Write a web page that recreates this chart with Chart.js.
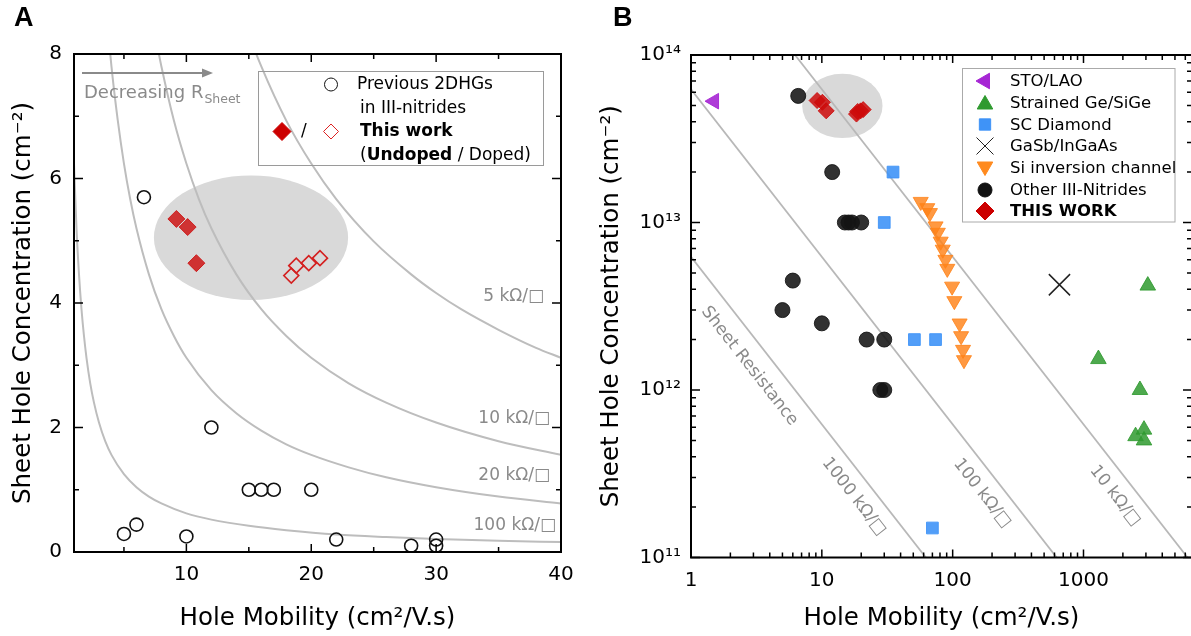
<!DOCTYPE html>
<html><head><meta charset="utf-8">
<script src="https://cdn.jsdelivr.net/npm/chart.js@4"></script>
<style>
html,body{margin:0;padding:0;background:#fff;}
#wrap{position:relative;width:1191px;height:636px;overflow:hidden;background:#fff;}
#ca{position:absolute;left:0;top:0;}
#cb{position:absolute;left:595px;top:0;}
</style></head><body>
<div id="wrap"><canvas id="ca" width="595" height="636"></canvas><canvas id="cb" width="600" height="636"></canvas></div>
<script>
// ---------- Panel A data (concentration in 1e13 cm^-2) ----------
const prevMobility = [5, 6, 6.6, 10, 12, 15, 16, 17, 20, 22, 28, 30, 30];
const prevConc     = [0.29, 0.44, 5.7, 0.25, 2.0, 1.0, 1.0, 1.0, 1.0, 0.2, 0.1, 0.2, 0.1];
const undopedMobility = [9.2, 10.1, 10.8];
const undopedConc     = [5.35, 5.22, 4.64];
const dopedMobility = [18.4, 18.8, 19.8, 20.7];
const dopedConc     = [4.44, 4.6, 4.64, 4.72];
// constant sheet-resistance curves
const r5kMu   = [14, 15, 16, 18, 20, 22, 25, 28, 30, 32, 35, 38, 40];
const r5kConc = [8.92, 8.32, 7.80, 6.93, 6.24, 5.67, 4.99, 4.46, 4.16, 3.90, 3.57, 3.28, 3.12];
const r10kMu   = [7, 7.8, 8, 9, 10, 11, 12, 14, 16, 18, 20, 23, 26, 30, 35, 40];
const r10kConc = [8.92, 8.0, 7.80, 6.93, 6.24, 5.67, 5.20, 4.46, 3.90, 3.47, 3.12, 2.71, 2.40, 2.08, 1.78, 1.56];
const r20kMu   = [3.5, 4, 4.5, 5, 5.5, 6, 7, 8, 9, 10, 12, 14, 16, 18, 20, 23, 26, 30, 35, 40];
const r20kConc = [8.92, 7.80, 6.94, 6.24, 5.67, 5.20, 4.46, 3.90, 3.47, 3.12, 2.60, 2.23, 1.95, 1.73, 1.56, 1.36, 1.20, 1.04, 0.89, 0.78];
const r100kMu   = [1, 1.2, 1.4, 1.6, 1.8, 2, 2.3, 2.6, 3, 3.5, 4, 5, 6, 7, 8, 10, 12, 15, 18, 22, 26, 30, 35, 40];
const r100kConc = [6.24, 5.20, 4.46, 3.90, 3.47, 3.12, 2.71, 2.40, 2.08, 1.78, 1.56, 1.25, 1.04, 0.89, 0.78, 0.62, 0.52, 0.42, 0.35, 0.28, 0.24, 0.21, 0.18, 0.16];
const A_X_MAJOR = [10, 20, 30, 40];
const A_X_MINOR = [5, 15, 25, 35];
const A_Y_MAJOR = [0, 2, 4, 6, 8];
const A_Y_MINOR = [1, 3, 5, 7];
const A_CURVE_LABELS = ['5 kΩ/□', '10 kΩ/□', '20 kΩ/□', '100 kΩ/□'];
const A_CURVE_LABEL_CONC = [4.11, 2.14, 1.22, 0.42];

// ---------- Panel B data (cm^-2) ----------
const stoMu = [1.5];
const stoConc = [5.3e13];
const geMu = [3100, 1300, 2700, 2500, 2900, 2900];
const geConc = [4.2e12, 1.53e12, 1.0e12, 5.3e11, 5.8e11, 5.0e11];
const diamondMu = [35, 30, 51, 74, 70];
const diamondConc = [2e13, 1e13, 2e12, 2e12, 1.5e11];
const gasbMu = [655];
const gasbConc = [4.25e12];
const siMu = [57, 64, 67, 74, 77, 81, 84, 88, 91, 99, 103, 113, 116, 120, 122];
const siConc = [1.33e13, 1.22e13, 1.14e13, 9.5e12, 8.7e12, 7.7e12, 6.9e12, 6.0e12, 5.3e12, 4.15e12, 3.4e12, 2.5e12, 2.1e12, 1.74e12, 1.51e12];
const nitrideMu = [5, 6, 6.6, 10, 12, 15, 16, 17, 20, 22, 28, 30, 30];
const nitrideConc = [3e12, 4.5e12, 5.7e13, 2.5e12, 2e13, 1e13, 1e13, 1e13, 1e13, 2e12, 1e12, 2e12, 1e12];
const thisWorkMu = [9.2, 10.1, 10.8, 18.4, 18.8, 19.8, 20.7];
const thisWorkConc = [5.35e13, 5.22e13, 4.64e13, 4.44e13, 4.6e13, 4.64e13, 4.72e13];
const rs1000Mu = [1, 62.4];   const rs1000Conc = [6.24e12, 1e11];
const rs100Mu = [1, 624];     const rs100Conc = [6.24e13, 1e11];
const rs10Mu = [6.24, 6242];  const rs10Conc = [1e14, 1e11];
const B_X_MAJOR = [1, 10, 100, 1000];
const B_X_LABELS = ['1', '10', '100', '1000'];
const B_X_MINOR = [2,3,4,5,6,7,8,9,20,30,40,50,60,70,80,90,200,300,400,500,600,700,800,900,2000,3000,4000,5000,6000];
const B_Y_MAJOR = [1e11, 1e12, 1e13, 1e14];
const B_Y_LABELS = ['10¹¹', '10¹²', '10¹³', '10¹⁴'];
const B_Y_MINOR = [2e11,3e11,4e11,5e11,6e11,7e11,8e11,9e11,2e12,3e12,4e12,5e12,6e12,7e12,8e12,9e12,2e13,3e13,4e13,5e13,6e13,7e13,8e13,9e13];
const B_LINE_LABELS = ['Sheet Resistance', '1000 kΩ/□', '100 kΩ/□', '10 kΩ/□'];
const B_LINE_LABEL_MU = [2.80, 17.6, 168, 1744];
const B_LINE_LABEL_CONC = [1.39e12, 2.31e11, 2.42e11, 2.34e11];

// highlight ellipses (data extents)
const A_HIGHLIGHT = {muMin: 7.4, muMax: 22.95, concMin: 4.05, concMax: 6.05};
const B_HIGHLIGHT = {muMin: 7.08, muMax: 29.1, concMin: 3.19e13, concMax: 7.73e13};

Chart.defaults.font.family = '"DejaVu Sans", sans-serif';
Chart.defaults.color = '#000';

const toXY = (xs, ys) => xs.map((v, i) => ({x: v, y: ys[i]}));
const GRAY_LINE = '#bdbdbd';
const GRAY_TEXT = '#8a8a8a';
const FONT = '"DejaVu Sans", sans-serif';

function drawFrame(chart, xMaj, xMin, yMaj, yMin) {
  const {ctx, chartArea: a, scales: {x, y}} = chart;
  ctx.save();
  ctx.strokeStyle = '#000';
  ctx.lineWidth = 1.5;
  ctx.beginPath();
  const tx = (v, len) => {
    const p = x.getPixelForValue(v);
    ctx.moveTo(p, a.bottom); ctx.lineTo(p, a.bottom - len);
    ctx.moveTo(p, a.top); ctx.lineTo(p, a.top + len);
  };
  const ty = (v, len) => {
    const p = y.getPixelForValue(v);
    ctx.moveTo(a.left, p); ctx.lineTo(a.left + len, p);
    ctx.moveTo(a.right, p); ctx.lineTo(a.right - len, p);
  };
  xMaj.forEach(v => tx(v, 8)); xMin.forEach(v => tx(v, 5));
  yMaj.forEach(v => ty(v, 9)); yMin.forEach(v => ty(v, 5));
  ctx.stroke();
  ctx.lineWidth = 2;
  ctx.strokeRect(a.left, a.top, a.right - a.left, a.bottom - a.top);
  ctx.restore();
}

function drawEllipse(chart, h) {
  const {ctx, scales: {x, y}} = chart;
  const l = x.getPixelForValue(h.muMin), r = x.getPixelForValue(h.muMax);
  const t = y.getPixelForValue(h.concMax), b = y.getPixelForValue(h.concMin);
  ctx.save();
  ctx.fillStyle = '#d9d9d9';
  ctx.beginPath();
  ctx.ellipse((l + r) / 2, (t + b) / 2, (r - l) / 2, (b - t) / 2, 0, 0, Math.PI * 2);
  ctx.fill();
  ctx.restore();
}

function marker(ctx, style, x, y, fill, stroke, bw, rotation) {
  ctx.save();
  ctx.fillStyle = fill; ctx.strokeStyle = stroke;
  Chart.helpers.drawPoint(ctx, {pointStyle: style.s, radius: style.r, borderWidth: bw, rotation: rotation || 0}, x, y);
  ctx.restore();
}

function runs(ctx, parts, x, y) {
  let cx = x;
  parts.forEach(([txt, font]) => { ctx.font = font; ctx.fillText(txt, cx, y); cx += ctx.measureText(txt).width; });
}

const plugA = {
  id: 'panelA',
  beforeDatasetsDraw(chart) { drawEllipse(chart, A_HIGHLIGHT); },
  afterDraw(chart) {
    const {ctx, chartArea: a, scales: {x, y}} = chart;
    drawFrame(chart, A_X_MAJOR, A_X_MINOR, A_Y_MAJOR, A_Y_MINOR);
    ctx.save();
    // panel letter
    ctx.fillStyle = '#000'; ctx.font = 'bold 27px "Liberation Sans", Arial, sans-serif';
    ctx.textBaseline = 'alphabetic'; ctx.fillText('A', 14, 26);
    // arrow
    ctx.strokeStyle = GRAY_TEXT; ctx.fillStyle = GRAY_TEXT; ctx.lineWidth = 2;
    ctx.beginPath(); ctx.moveTo(a.left + 8, 73); ctx.lineTo(a.left + 130, 73); ctx.stroke();
    ctx.beginPath(); ctx.moveTo(a.left + 139, 73); ctx.lineTo(a.left + 128, 68.5); ctx.lineTo(a.left + 128, 77.5); ctx.closePath(); ctx.fill();
    ctx.textBaseline = 'alphabetic';
    ctx.font = '18px ' + FONT; ctx.fillText('Decreasing R', a.left + 10, 98);
    const w = ctx.measureText('Decreasing R').width;
    ctx.font = '12.5px ' + FONT; ctx.fillText('Sheet', a.left + 10 + w + 1, 103);
    // curve labels
    ctx.font = '17px ' + FONT; ctx.textAlign = 'right'; ctx.textBaseline = 'middle';
    const rightOff = [17, 11, 11, 5];
    A_CURVE_LABELS.forEach((t, i) => ctx.fillText(t, a.right - rightOff[i], y.getPixelForValue(A_CURVE_LABEL_CONC[i])));
    // legend
    ctx.textAlign = 'left';
    ctx.strokeStyle = '#9a9a9a'; ctx.lineWidth = 1;
    ctx.strokeRect(258.5, 71.5, 285, 94);
    marker(ctx, {s: 'circle', r: 6.5}, 331, 84.5, 'rgba(0,0,0,0)', '#111', 1.6);
    ctx.fillStyle = '#000';
    ctx.font = '17px ' + FONT;
    ctx.fillText('Previous 2DHGs', 357, 85);
    ctx.fillText('in III-nitrides', 360, 108.5);
    marker(ctx, {s: 'rectRot', r: 9}, 282, 131.5, '#cc0000', '#cc0000', 1);
    ctx.fillStyle = '#000'; ctx.font = '17px ' + FONT; ctx.fillText('/', 301, 132);
    marker(ctx, {s: 'rectRot', r: 7.5}, 331, 131.5, 'rgba(0,0,0,0)', '#dd2222', 1.5);
    ctx.fillStyle = '#000';
    ctx.font = 'bold 17px ' + FONT; ctx.fillText('This work', 360, 132);
    runs(ctx, [['(', '17px ' + FONT], ['Undoped', 'bold 17px ' + FONT], [' / Doped)', '17px ' + FONT]], 360, 155.5);
    ctx.restore();
  }
};

const plugB = {
  id: 'panelB',
  beforeDatasetsDraw(chart) { drawEllipse(chart, B_HIGHLIGHT); },
  afterDraw(chart) {
    const {ctx, chartArea: a, scales: {x, y}} = chart;
    drawFrame(chart, B_X_MAJOR, B_X_MINOR, B_Y_MAJOR, B_Y_MINOR);
    ctx.save();
    ctx.fillStyle = '#000'; ctx.font = 'bold 27px "Liberation Sans", Arial, sans-serif';
    ctx.textBaseline = 'alphabetic'; ctx.fillText('B', 18, 26);
    // rotated line labels
    ctx.fillStyle = GRAY_TEXT; ctx.font = '17px ' + FONT; ctx.textAlign = 'center'; ctx.textBaseline = 'middle';
    B_LINE_LABELS.forEach((t, i) => {
      ctx.save();
      ctx.translate(x.getPixelForValue(B_LINE_LABEL_MU[i]), y.getPixelForValue(B_LINE_LABEL_CONC[i]));
      ctx.rotate(52 * Math.PI / 180);
      ctx.fillText(t, 0, 0);
      ctx.restore();
    });
    // legend
    ctx.textAlign = 'left';
    const L = 367.5, T = 68.5;
    ctx.fillStyle = '#fff'; ctx.fillRect(L, T, 212.5, 153.5);
    ctx.strokeStyle = '#aaa'; ctx.lineWidth = 1; ctx.strokeRect(L, T, 212.5, 153.5);
    const mx = 390, tx = 415;
    const rows = [81, 103, 124.5, 146, 168, 190, 211];
    marker(ctx, {s: 'triangle', r: 9}, mx, rows[0], '#a626d4', '#a626d4', 1, -90);
    marker(ctx, {s: 'triangle', r: 9}, mx, rows[1] + 1.5, '#2f9a2f', '#2f9a2f', 1);
    marker(ctx, {s: 'rect', r: 8}, mx, rows[2], '#3f93f7', '#3f93f7', 1);
    marker(ctx, {s: 'crossRot', r: 12}, mx, rows[3], '#111', '#222', 1.5);
    marker(ctx, {s: 'triangle', r: 9}, mx, rows[4] - 1.5, '#ff8a1e', '#ff8a1e', 1, 180);
    marker(ctx, {s: 'circle', r: 7}, mx, rows[5], '#111', '#111', 1);
    marker(ctx, {s: 'rectRot', r: 9}, mx, rows[6], '#cc0000', '#cc0000', 1);
    ctx.fillStyle = '#000'; ctx.font = '16.5px ' + FONT;
    ['STO/LAO', 'Strained Ge/SiGe', 'SC Diamond', 'GaSb/InGaAs', 'Si inversion channel', 'Other III-Nitrides'].forEach((t, i) => ctx.fillText(t, tx, rows[i] + 1));
    ctx.font = 'bold 16.5px ' + FONT; ctx.fillText('THIS WORK', tx, rows[6] + 1);
    ctx.restore();
  }
};

const curveDS = (mu, conc) => ({data: toXY(mu, conc), showLine: true, borderColor: GRAY_LINE, borderWidth: 2, pointRadius: 0, cubicInterpolationMode: 'monotone', fill: false, order: 10});

new Chart(document.getElementById('ca'), {
  type: 'scatter',
  data: {datasets: [
    curveDS(r5kMu, r5kConc), curveDS(r10kMu, r10kConc), curveDS(r20kMu, r20kConc), curveDS(r100kMu, r100kConc),
    {label: 'Previous 2DHGs in III-nitrides', data: toXY(prevMobility, prevConc), pointStyle: 'circle', pointRadius: 6.5, pointBorderWidth: 1.6, borderColor: '#111', backgroundColor: 'rgba(0,0,0,0)', order: 3},
    {label: 'This work (Doped)', data: toXY(dopedMobility, dopedConc), pointStyle: 'rectRot', pointRadius: 7.5, pointBorderWidth: 1.6, borderColor: '#d42020', backgroundColor: 'rgba(0,0,0,0)', order: 2},
    {label: 'This work (Undoped)', data: toXY(undopedMobility, undopedConc), pointStyle: 'rectRot', pointRadius: 8.5, pointBorderWidth: 1, borderColor: 'rgba(205,20,20,0.85)', backgroundColor: 'rgba(205,20,20,0.85)', order: 1}
  ]},
  options: {
    responsive: false, animation: false,
    layout: {autoPadding: false, padding: {left: 0, top: 54, right: 34, bottom: 0}},
    plugins: {legend: {display: false}, tooltip: {enabled: false}},
    scales: {
      x: {type: 'linear', min: 1, max: 40,
        afterBuildTicks: s => { s.ticks = A_X_MAJOR.map(v => ({value: v})); },
        afterFit: s => { s.height = 84; },
        grid: {display: false, drawTicks: false}, border: {display: false},
        ticks: {font: {size: 20}, color: '#000', padding: 11, maxRotation: 0, autoSkip: false},
        title: {display: true, text: 'Hole Mobility (cm²/V.s)', font: {size: 24.5}, color: '#000', padding: {top: 0, bottom: 3}}},
      y: {type: 'linear', min: 0, max: 8,
        afterBuildTicks: s => { s.ticks = A_Y_MAJOR.map(v => ({value: v})); },
        afterFit: s => { s.width = 74; },
        grid: {display: false, drawTicks: false}, border: {display: false},
        ticks: {font: {size: 20}, color: '#000', padding: 12, autoSkip: false},
        title: {display: true, text: 'Sheet Hole Concentration (cm⁻²)', font: {size: 24.5}, color: '#000', padding: {top: 9, bottom: 0}}}
    }
  },
  plugins: [plugA]
});

const lineDS = (mu, conc) => ({data: toXY(mu, conc), showLine: true, borderColor: '#b8b8b8', borderWidth: 1.8, pointRadius: 0, fill: false, order: 10});
const ptDS = (label, mu, conc, style, r, color, extra) => Object.assign({label, data: toXY(mu, conc), pointStyle: style, pointRadius: r, borderColor: color, backgroundColor: color, pointBorderWidth: 1}, extra || {});

new Chart(document.getElementById('cb'), {
  type: 'scatter',
  data: {datasets: [
    lineDS(rs1000Mu, rs1000Conc), lineDS(rs100Mu, rs100Conc), lineDS(rs10Mu, rs10Conc),
    ptDS('STO/LAO', stoMu, stoConc, 'triangle', 9, 'rgba(166,38,212,0.9)', {rotation: -90, order: 2}),
    ptDS('Strained Ge/SiGe', geMu, geConc, 'triangle', 9, 'rgba(47,154,47,0.85)', {order: 2}),
    ptDS('SC Diamond', diamondMu, diamondConc, 'rect', 8.3, 'rgba(63,147,247,0.9)', {order: 2}),
    ptDS('GaSb/InGaAs', gasbMu, gasbConc, 'crossRot', 15, '#222', {pointBorderWidth: 1.5, order: 2}),
    ptDS('Si inversion channel', siMu, siConc, 'triangle', 8.7, 'rgba(255,130,25,0.82)', {rotation: 180, order: 2}),
    ptDS('Other III-Nitrides', nitrideMu, nitrideConc, 'circle', 7.5, 'rgba(20,20,20,0.88)', {order: 2}),
    ptDS('THIS WORK', thisWorkMu, thisWorkConc, 'rectRot', 8, 'rgba(205,10,10,0.85)', {order: 1})
  ]},
  options: {
    responsive: false, animation: false,
    layout: {autoPadding: false, padding: {left: 0, top: 55, right: 3, bottom: 0}},
    plugins: {legend: {display: false}, tooltip: {enabled: false}},
    scales: {
      x: {type: 'logarithmic', min: 1, max: 6750,
        afterBuildTicks: s => { s.ticks = B_X_MAJOR.map(v => ({value: v})); },
        afterFit: s => { s.height = 78.5; },
        grid: {display: false, drawTicks: false}, border: {display: false},
        ticks: {font: {size: 20}, color: '#000', padding: 11, maxRotation: 0, autoSkip: false, callback: (v, i) => B_X_LABELS[i]},
        title: {display: true, text: 'Hole Mobility (cm²/V.s)', font: {size: 24.5}, color: '#000', padding: {top: 0, bottom: 3}}},
      y: {type: 'logarithmic', min: 1e11, max: 1e14,
        afterBuildTicks: s => { s.ticks = B_Y_MAJOR.map(v => ({value: v})); },
        afterFit: s => { s.width = 96; },
        grid: {display: false, drawTicks: false}, border: {display: false},
        ticks: {font: {size: 20}, color: '#000', padding: 10, autoSkip: false, callback: (v, i) => B_Y_LABELS[i]},
        title: {display: true, text: 'Sheet Hole Concentration (cm⁻²)', font: {size: 24.5}, color: '#000', padding: {top: 2, bottom: 0}}}
    }
  },
  plugins: [plugB]
});
</script>
</body></html>
